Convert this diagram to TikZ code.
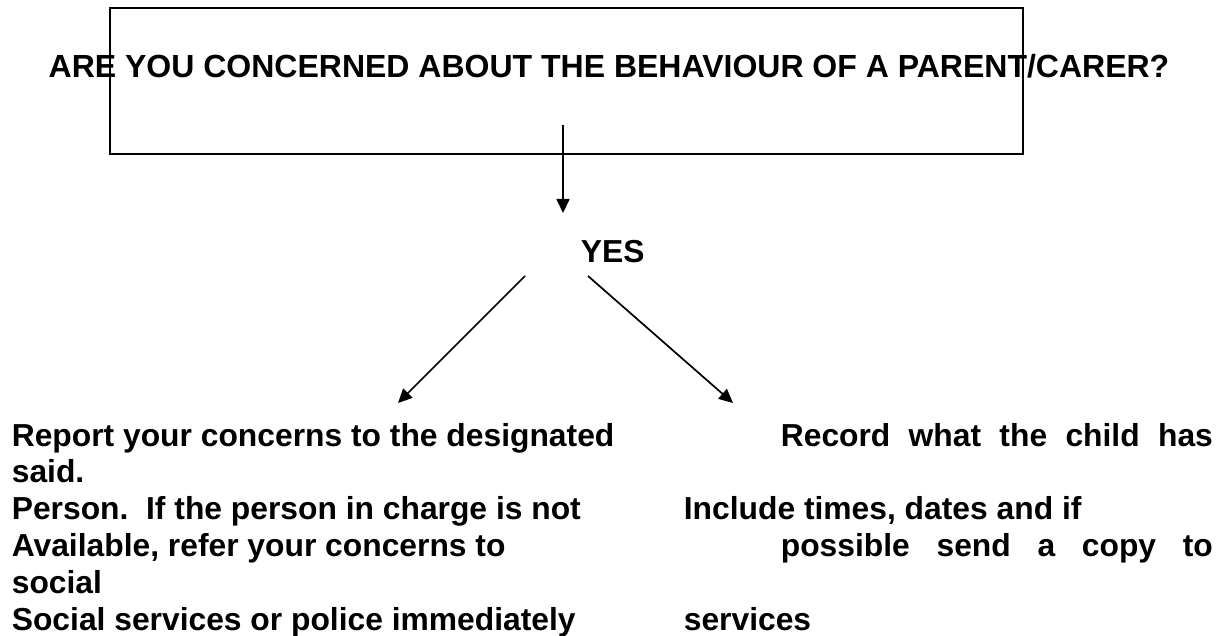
\documentclass[tikz,border=0pt]{standalone}
\usepackage{fontspec}
\setmainfont{Liberation Sans}
\usepackage{tikz}
\usetikzlibrary{arrows.meta}
\usetikzlibrary{positioning}

\begin{document}
\begin{tikzpicture}[x=1pt,y=-1pt,->,>={Triangle[length=14pt,width=13pt]},line width=1.7pt,
                    txt/.style={anchor=base west,inner sep=0pt,font=\fontsize{31.8}{36.8}\selectfont\bfseries},
                    frame/.style={draw,-,line width=1.8pt,inner sep=0pt,anchor=north west}]

  \useasboundingbox (0,0) rectangle (1225,636);

  \node[frame,minimum width=913pt,minimum height=146pt] (box) at (109,7) {};
  \node[txt,anchor=base,font=\fontsize{32}{36.8}\selectfont\bfseries] (ask) at (609,78) {ARE YOU CONCERNED ABOUT THE BEHAVIOUR OF A PARENT/CARER?};
  \node[txt] (yes) at (580,262) {YES};

  % left column
  \foreach \line [count=\i from 0] in {{Report your concerns to the designated},{said.},
      {Person.\ \ If the person in charge is not},{Available, refer your concerns to},{social},
      {Social services or police immediately}}
    \node[txt] (left\i) at (11,446+36.8*\i) {\line};

  % right column
  \node[txt] (rec) at (780,446) {\makebox[432pt][s]{Record what the child has}};
  \node[txt] (incl) at (683,519.6) {Include times, dates and if};
  \node[txt] (poss) at (780,556.4) {\makebox[432pt][s]{possible send a copy to}};
  \node[txt] (serv) at (683,630) {services};

  \coordinate (stem) at (563,125);
  \coordinate (down) at (563,213);
  \coordinate (fromL) at (525,276);
  \coordinate (toL) at (398,403);
  \coordinate (fromR) at (588,276);
  \coordinate (toR) at (733,403);

  \path (stem) edge (down)
        (fromL) edge (toL)
        (fromR) edge (toR);
\end{tikzpicture}
\end{document}
